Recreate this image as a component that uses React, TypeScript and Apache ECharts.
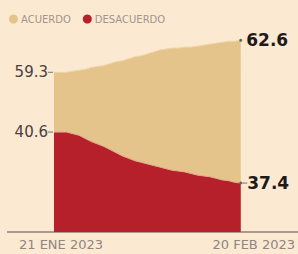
import React, { useEffect, useRef } from "react";
import * as echarts from "echarts";

const dates = [
  "21 ENE 2023", "22 ENE 2023", "23 ENE 2023", "24 ENE 2023", "25 ENE 2023", "26 ENE 2023",
  "27 ENE 2023", "28 ENE 2023", "29 ENE 2023", "30 ENE 2023", "31 ENE 2023",
  "1 FEB 2023", "2 FEB 2023", "3 FEB 2023", "4 FEB 2023", "5 FEB 2023", "6 FEB 2023",
  "7 FEB 2023", "8 FEB 2023", "9 FEB 2023", "10 FEB 2023", "11 FEB 2023", "12 FEB 2023",
  "13 FEB 2023", "14 FEB 2023", "15 FEB 2023", "16 FEB 2023", "17 FEB 2023", "18 FEB 2023",
  "19 FEB 2023", "20 FEB 2023",
];

const acuerdo = [
  59.3, 59.3, 59.3, 59.4, 59.5, 59.6, 59.8, 59.9, 60.0, 60.2, 60.4,
  60.5, 60.7, 60.9, 61.0, 61.2, 61.4, 61.6, 61.7, 61.8, 61.8, 61.9,
  61.9, 62.0, 62.1, 62.2, 62.3, 62.4, 62.5, 62.5, 62.6,
];

const desacuerdo = [
  40.6, 40.6, 40.6, 40.5, 40.4, 40.2, 40.0, 39.85, 39.7, 39.5, 39.3,
  39.1, 38.95, 38.8, 38.7, 38.6, 38.5, 38.4, 38.3, 38.2, 38.15, 38.1,
  38.0, 37.9, 37.85, 37.8, 37.7, 37.6, 37.55, 37.45, 37.4,
];

const seriesNames = ["ACUERDO", "DESACUERDO"];

const BG = "#fce9d2";
const TAN = "#e4c48a";
const RED = "#b5202a";
const FONT = "DejaVu Sans";

const richCommon = {
  v: { fontFamily: FONT, fontSize: 15, color: "#4a403c" },
  b: { fontFamily: FONT, fontSize: 17, fontWeight: "bold", color: "#1e1a1a" },
  t: { width: 5, height: 1, backgroundColor: "#7a706a" },
};

function buildData(values: number[], endDash: boolean) {
  const last = values.length - 1;
  return values.map((v, i) => {
    if (i === 0) {
      return {
        value: v,
        symbolSize: 0,
        label: {
          show: true,
          position: "left",
          distance: 1,
          formatter: (p: any) => `{v|${p.value.toFixed(1)}}{t|}`,
          rich: richCommon,
        },
      };
    }
    if (i === last) {
      return {
        value: v,
        symbolSize: 3,
        itemStyle: { color: "#6a625c" },
        label: {
          show: true,
          position: "right",
          distance: endDash ? 0 : 4,
          formatter: (p: any) =>
            endDash ? `{t|}{b|${p.value.toFixed(1)}}` : `{b|${p.value.toFixed(1)}}`,
          rich: richCommon,
        },
      };
    }
    return { value: v };
  });
}

export default function App() {
  const ref = useRef<HTMLDivElement>(null);

  useEffect(() => {
    if (!ref.current) return;
    const chart = echarts.init(ref.current, null, { renderer: "svg" });
    const last = dates.length - 1;
    chart.setOption({
      animation: false,
      backgroundColor: BG,
      textStyle: { fontFamily: FONT },
      legend: {
        data: seriesNames,
        left: 4,
        top: 9,
        icon: "circle",
        itemWidth: 9,
        itemHeight: 9,
        itemGap: 12,
        textStyle: { fontFamily: FONT, fontSize: 10, color: "#a0958d", padding: [0, 0, 0, -2] },
      },
      grid: { left: 54, right: 56, top: 20, bottom: 22 },
      xAxis: {
        type: "category",
        data: dates,
        boundaryGap: false,
        axisLine: { show: false },
        axisTick: { show: false },
        splitLine: { show: false },
        axisLabel: {
          interval: (i: number) => i === 0 || i === last,
          margin: 6,
          formatter: (val: string, i: number) =>
            i === 0 ? `{l|${val}}` : `{r|${val}}`,
          rich: {
            l: { fontFamily: FONT, fontSize: 13, color: "#8e8680", padding: [0, 0, 0, 14] },
            r: { fontFamily: FONT, fontSize: 13, color: "#8e8680", padding: [0, 0, 0, 26] },
          },
        },
      },
      yAxis: [
        { type: "value", show: false, min: 42.8, max: 64.7, splitLine: { show: false } },
        { type: "value", show: false, min: 34.33, max: 47.63, splitLine: { show: false } },
      ],
      series: [
        {
          name: seriesNames[0],
          type: "line",
          yAxisIndex: 0,
          data: buildData(acuerdo, false),
          showSymbol: true,
          showAllSymbol: true,
          symbol: "circle",
          symbolSize: 0,
          itemStyle: { color: TAN },
          lineStyle: { color: "#f0d6a6", width: 1 },
          areaStyle: { color: TAN, opacity: 1, origin: "start" },
          z: 2,
        },
        {
          name: seriesNames[1],
          type: "line",
          yAxisIndex: 1,
          data: buildData(desacuerdo, true),
          showSymbol: true,
          showAllSymbol: true,
          symbol: "circle",
          symbolSize: 0,
          itemStyle: { color: RED },
          lineStyle: { color: "#e9a98f", width: 1 },
          areaStyle: { color: RED, opacity: 1, origin: "start" },
          z: 3,
        },
      ],
      graphic: [
        {
          type: "line",
          z: 100,
          shape: { x1: 7, y1: 232, x2: 298, y2: 232 },
          style: { stroke: "#5a4c46", lineWidth: 1 },
        },
      ],
    });
    return () => chart.dispose();
  }, []);

  return (
    <div
      ref={ref}
      style={{ position: "fixed", left: 0, top: 0, width: 298, height: 254 }}
    />
  );
}
